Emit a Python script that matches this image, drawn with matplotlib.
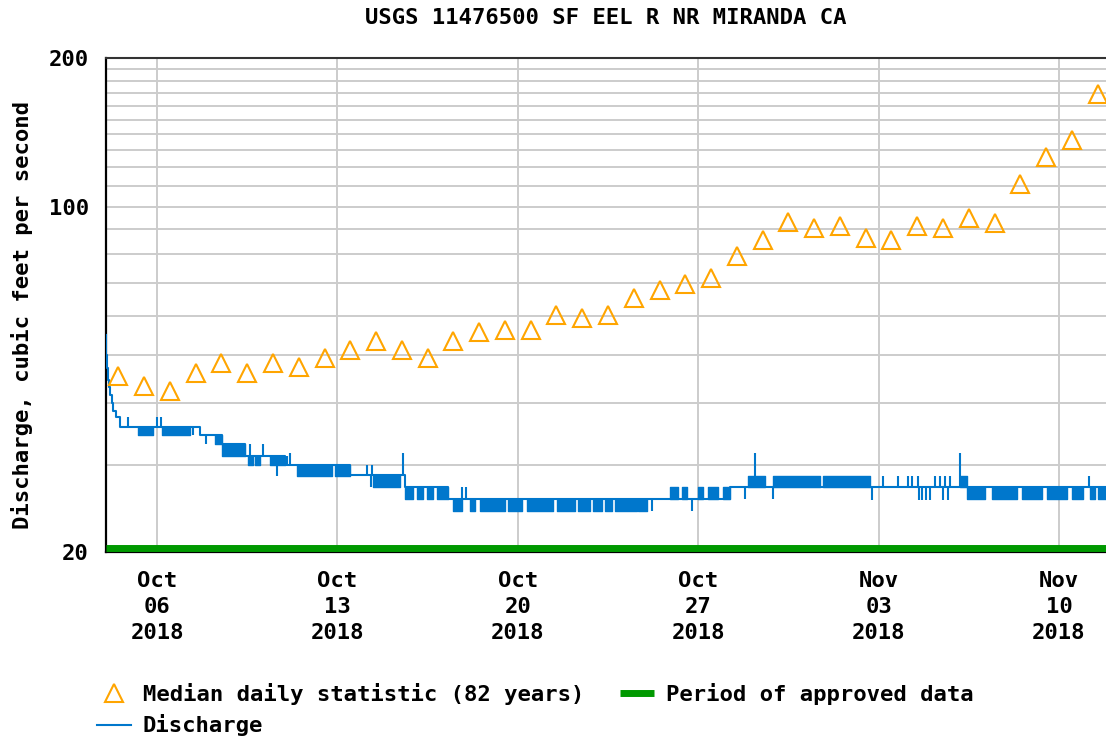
import numpy as np
import pandas as pd
import matplotlib
matplotlib.use("Agg")
import matplotlib.pyplot as plt
from matplotlib.lines import Line2D
from matplotlib.ticker import NullFormatter
from matplotlib.transforms import blended_transform_factory

plt.rcParams['font.family'] = ['DejaVu Sans Mono', 'DejaVu Sans']
plt.rcParams['font.weight'] = 'bold'

# ---------------- data ----------------
title = "USGS 11476500 SF EEL R NR MIRANDA CA"
y_label = "Discharge, cubic feet per second"
start = pd.Timestamp("2018-10-04 00:00")
end_days = 38.825

# median daily statistic (one per day, plotted at noon)
median_dates = pd.date_range("2018-10-04 12:00", periods=39, freq="D")
median_cfs = [45.3, 43.2, 42.3, 46.1, 48.3, 46.1, 48.3, 47.4, 49.3, 51.1,
              53.3, 51.1, 49.3, 53.3, 55.6, 56.1, 56.1, 60.2, 59.4, 60.2,
              65.2, 67.7, 69.6, 71.6, 79.3, 85.5, 93.0, 90.3, 91.2, 86.2,
              85.5, 91.2, 90.3, 94.6, 92.8, 110.9, 126.1, 136.4, 169.2]

# discharge: step change points (days after 2018-10-04 00:00)
line_day = [0.00, 0.03, 0.06, 0.09, 0.13, 0.18, 0.24, 0.30, 0.40, 0.56,
            3.667, 4.521, 5.413, 6.966, 9.487, 11.622, 13.291, 24.234, 38.825]
line_cfs = [54.8, 50.0, 47.0, 44.5, 43.0, 41.5, 40.0, 38.5, 37.4, 35.7,
            34.4, 33.0, 31.3, 29.9, 28.6, 27.0, 25.6, 27.0, 27.0]

# discharge: periods of rapid flicker between two levels
block_start = [1.261, 2.192, 4.249, 4.521, 5.530, 5.801, 6.383, 7.431, 8.905,
               10.380, 11.622, 12.088, 12.476, 12.864, 13.485, 14.144, 14.532,
               15.619, 16.356, 17.520, 18.335, 18.917, 19.383, 19.771, 20.664,
               21.906, 22.371, 22.992, 23.380, 23.962, 24.933, 25.903, 27.843,
               33.159, 33.430, 34.400, 35.564, 36.535, 37.505, 38.204, 38.514]
block_end = [1.843, 3.279, 4.521, 5.413, 5.724, 5.995, 6.966, 8.789, 9.487,
             11.428, 11.932, 12.321, 12.709, 13.291, 13.822, 14.338, 15.502,
             16.162, 17.365, 18.219, 18.800, 19.267, 19.655, 20.625, 21.013,
             22.216, 22.565, 23.186, 23.768, 24.234, 25.592, 27.727, 29.667,
             33.430, 34.129, 35.370, 36.341, 37.311, 37.932, 38.398, 38.825]
block_lo = [34.4, 34.4, 33.0, 31.3, 29.9, 29.9, 29.9, 28.5, 28.5,
            27.0, 25.6, 25.6, 25.6, 25.6, 24.2, 24.2, 24.2,
            24.2, 24.2, 24.2, 24.2, 24.2, 24.2, 24.2, 24.2,
            25.6, 25.6, 25.6, 25.6, 25.6, 27.0, 27.0, 27.0,
            27.0, 25.5, 25.5, 25.5, 25.5, 25.5, 25.5, 25.5]
block_hi = [35.7, 35.7, 34.4, 33.0, 31.3, 31.3, 31.3, 29.9, 29.9,
            28.6, 27.0, 27.0, 27.0, 27.0, 25.6, 25.6, 25.6,
            25.6, 25.6, 25.6, 25.6, 25.6, 25.6, 25.6, 25.6,
            27.0, 27.0, 27.0, 27.0, 27.0, 28.5, 28.5, 28.5,
            28.5, 27.0, 27.0, 27.0, 27.0, 27.0, 27.0, 27.0]

# discharge: single-reading spikes
spike_day = [0.873, 1.987, 2.154, 3.407, 3.900, 5.607, 6.112, 6.655, 7.043,
             7.159, 10.147, 10.302, 10.341, 11.533, 13.822, 13.989, 21.207,
             22.759, 24.816, 25.204, 25.903, 29.744, 30.171, 30.753, 31.141,
             31.296, 31.529, 31.560, 31.684, 31.850, 32.000, 32.189, 32.383,
             32.499, 32.577, 32.693, 32.771, 33.159, 38.165]
spike_base = [35.7, 35.7, 35.7, 35.7, 34.4, 31.3, 31.3, 29.9, 29.9,
              29.9, 28.6, 28.6, 28.6, 28.6, 25.6, 25.6, 25.6,
              25.6, 27.0, 27.0, 27.0, 27.0, 27.0, 27.0, 27.0,
              27.0, 27.0, 27.0, 27.0, 27.0, 27.0, 27.0, 27.0,
              27.0, 27.0, 27.0, 27.0, 27.0, 27.0]
spike_cfs = [37.4, 37.4, 37.4, 34.4, 33.0, 33.0, 33.0, 28.5, 31.3,
             31.6, 29.9, 27.0, 29.9, 31.6, 27.0, 27.0, 24.2,
             24.2, 25.6, 31.6, 25.6, 25.4, 28.5, 28.5, 28.5,
             28.5, 28.5, 25.4, 25.4, 25.4, 25.4, 28.5, 28.5,
             25.4, 28.5, 25.4, 28.5, 31.6, 28.5]

# approved data period
approved_start = 0.0
approved_end = 38.825

# axes ticks
y_major = [20, 100, 200]
y_minor = [30, 40, 50, 60, 70, 80, 90, 110, 120, 130, 140, 150, 160, 170, 180, 190]
tick_dates = ["2018-10-06", "2018-10-13", "2018-10-20", "2018-10-27", "2018-11-03", "2018-11-10"]
tick_months = ["Oct", "Oct", "Oct", "Oct", "Nov", "Nov"]
tick_days = ["06", "13", "20", "27", "03", "10"]
tick_years = ["2018"] * 6

legend_labels = ["Median daily statistic (82 years)", "Discharge", "Period of approved data"]

# ---------------- styles ----------------
ORANGE = "#FFA500"
BLUE = "#0077CC"
GREEN = "#009900"
GRID = "#CCCCCC"
FS = 16


def to_dates(days):
    return (start + pd.to_timedelta(np.asarray(days, dtype=float), unit="D")).to_numpy()


W, H = 1106, 738
fig = plt.figure(figsize=(W / 100, H / 100), dpi=100)
ax = fig.add_axes([105.5 / W, (H - 551.5) / H, 1000.5 / W, 493.5 / H])

ax.set_yscale("log")
ax.set_ylim(20, 200)
ax.set_xlim(to_dates([0.0])[0], to_dates([end_days])[0])

# grid
ax.set_axisbelow(True)
ax.set_yticks(y_major)
ax.set_yticklabels([str(v) for v in y_major])
ax.set_yticks(y_minor, minor=True)
ax.yaxis.set_minor_formatter(NullFormatter())
ax.set_xticks(pd.to_datetime(tick_dates).to_numpy())
ax.set_xticklabels([f"{m}\n{d}\n{y}" for m, d, y in zip(tick_months, tick_days, tick_years)],
                   linespacing=1.37)
ax.grid(True, which="both", axis="y", color=GRID, lw=1.4)
ax.grid(True, which="major", axis="x", color=GRID, lw=1.4)
ax.tick_params(axis="both", which="both", length=0)
ax.tick_params(axis="y", pad=12, labelsize=FS)
ax.tick_params(axis="x", pad=14, labelsize=FS)
for lab in ax.get_xticklabels() + ax.get_yticklabels():
    lab.set_fontweight("bold")

for side in ["left", "bottom"]:
    ax.spines[side].set_color("black")
    ax.spines[side].set_linewidth(1.6)
ax.spines["top"].set_color("#333333")
ax.spines["top"].set_linewidth(1.5)
ax.spines["right"].set_visible(False)

# discharge
ax.step(to_dates(line_day), line_cfs, where="post", color=BLUE, lw=1.5, zorder=3)
for s, e, lo, hi in zip(block_start, block_end, block_lo, block_hi):
    ax.fill_between(to_dates([s, e]), [lo, lo], [hi, hi], facecolor=BLUE,
                    edgecolor=BLUE, lw=1.0, zorder=3)
ax.vlines(to_dates(spike_day), spike_base, spike_cfs, color=BLUE, lw=1.5, zorder=3)

# median triangles
ax.plot(median_dates.to_numpy(), median_cfs, ls="none", marker="^", ms=12.5,
        mfc="none", mec=ORANGE, mew=1.5, zorder=4)

# approved period bar
trans = blended_transform_factory(ax.transData, ax.transAxes)
ax.plot(to_dates([approved_start, approved_end]), [0.008, 0.008], color=GREEN,
        lw=5, solid_capstyle="butt", transform=trans, clip_on=False, zorder=5)

# texts
fig.text(605.5 / W, 1 - 18 / H, title, ha="center", va="center", fontsize=FS,
         fontweight="bold")
fig.text(22 / W, 1 - 315 / H, y_label, ha="center", va="center", rotation=90,
         fontsize=FS, fontweight="bold")

# legend
h_med = Line2D([], [], ls="none", marker="^", ms=12.5, mfc="none", mec=ORANGE, mew=1.5)
h_dis = Line2D([], [], color=BLUE, lw=1.5)
h_app = Line2D([], [], color=GREEN, lw=5, solid_capstyle="butt")
fig.legend(handles=[h_med, h_dis, h_app], labels=[legend_labels[0], legend_labels[1], legend_labels[2]],
           ncol=2, loc="upper left", bbox_to_anchor=(97 / W, 1 - 683 / H),
           frameon=False, borderpad=0, borderaxespad=0, handlelength=1.53,
           handletextpad=0.54, columnspacing=1.6, labelspacing=0.42,
           prop={"family": "DejaVu Sans Mono", "weight": "bold", "size": FS})

fig.savefig("out.png", dpi=100)
